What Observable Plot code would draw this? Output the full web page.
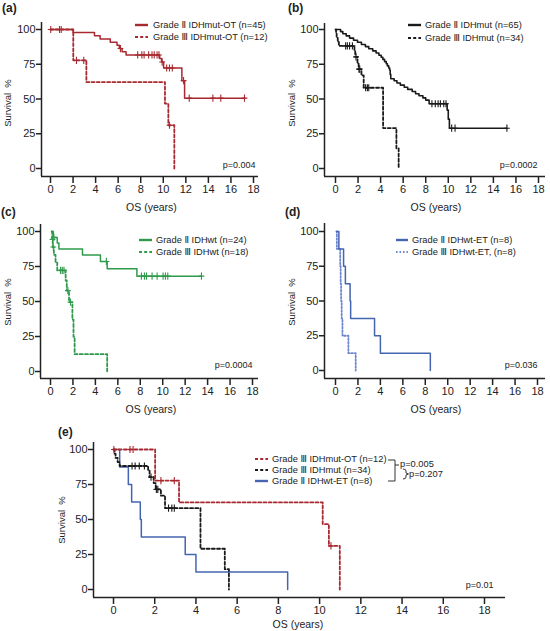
<!DOCTYPE html>
<html><head><meta charset="utf-8">
<script src="https://cdn.jsdelivr.net/npm/d3@7"></script>
<script src="https://cdn.jsdelivr.net/npm/@observablehq/plot@0.6"></script>
<style>
html,body{margin:0;padding:0;background:#fff;}
#root{position:relative;width:550px;height:631px;overflow:hidden;background:#fff;}
#root svg{position:absolute;overflow:visible;}
</style></head><body><div id="root"></div>
<script>
const FONT = '"Liberation Sans", Arial, "DejaVu Sans", "Noto Sans CJK SC", sans-serif';
const xTicks = [0, 2, 4, 6, 8, 10, 12, 14, 16, 18];
const yTicks = [0, 25, 50, 75, 100];

// ---- Grade II IDHmut-OT (n=45)
const g2OT_t = [0, 2.0, 3.9, 4.4, 5.3, 5.9, 6.1, 6.35, 6.7, 9.68, 9.85, 10.03, 11.65, 11.89, 17.25];
const g2OT_s = [100, 97.8, 95.5, 93.2, 90.9, 88.6, 86.3, 84.0, 81.7, 79.2, 76.6, 72.3, 63.2, 50.6, 50.6];
const g2OT_c = [6.2, 7.73, 8.1, 8.3, 8.7, 9.0, 9.2, 9.45, 9.62, 9.9, 10.3, 10.55, 10.8, 11.8, 12.3, 14.4, 15.1, 17.2];
// ---- Grade III IDHmut-OT (n=12)
const g3OT_t = [0, 2.02, 3.18, 10.15, 10.45, 10.98];
const g3OT_s = [100, 77.8, 62.2, 46.7, 31.1, 0];
const g3OT_c = [0.02, 0.8, 0.95, 2.3, 2.95, 10.55];
// ---- Grade II IDHmut (n=65)
const g2M_t = [0.1, 0.45, 0.65, 0.95, 1.25, 1.6, 1.95, 2.3, 2.65, 2.95, 3.3, 3.6, 3.85, 4.05, 4.2, 4.35, 4.5, 4.6, 4.72, 4.8, 4.85, 4.9, 5.2, 5.45, 5.75, 6.1, 6.4, 6.8, 7.1, 7.4, 7.75, 8.0, 8.3, 9.9, 10.0, 10.1, 15.2];
const g2M_s = [100, 98.5, 96.9, 95.4, 93.8, 92.3, 90.8, 89.2, 87.7, 86.2, 84.6, 83.1, 81.5, 80.0, 78.5, 76.9, 75.4, 73.8, 72.3, 70.8, 67.7, 64.6, 63.1, 61.5, 60.0, 58.5, 56.9, 55.4, 53.8, 52.3, 50.8, 49.2, 46.6, 42.0, 35.5, 29.0, 29.0];
const g2M_c = [8.55, 8.85, 9.1, 9.3, 9.6, 9.8, 10.3, 10.6, 15.2];
// ---- Grade III IDHmut (n=34)
const g3M_t = [0, 0.05, 0.1, 0.2, 0.3, 1.68, 1.75, 1.95, 2.05, 2.3, 2.5, 4.22, 5.4, 5.6];
const g3M_s = [100, 97, 94, 91, 88.2, 85, 80.3, 76, 71.5, 67, 58.1, 29.1, 14.5, 0];
const g3M_c = [0.9, 1.05, 1.25, 1.5, 1.82, 2.08, 2.15, 2.67, 2.83, 2.95];
// ---- Grade II IDHwt (n=24)
const g2W_t = [0.1, 0.25, 0.6, 0.75, 2.85, 4.45, 5.05, 7.7, 13.45];
const g2W_s = [100, 95.8, 91.7, 87.5, 83.3, 78.6, 73.4, 68.1, 68.1];
const g2W_c = [0.3, 4.98, 8.1, 8.37, 8.55, 9.05, 9.5, 10.03, 10.24, 10.45, 13.45];
// ---- Grade III IDHwt (n=18)
const g3W_t = [0.1, 0.15, 0.2, 0.3, 0.45, 0.6, 1.35, 1.45, 1.65, 1.95, 2.05, 2.15, 5.05];
const g3W_s = [100, 94.4, 88.9, 83.3, 77.8, 72.2, 65.0, 57.8, 49.5, 37.1, 24.8, 12.4, 0];
const g3W_c = [0.18, 0.25, 0.9, 1.05, 1.2, 1.55, 1.78];
// ---- Grade II IDHwt-ET (n=8)
const g2E_t = [0.1, 0.3, 0.72, 0.88, 1.3, 1.35, 3.48, 4.0, 8.45];
const g2E_s = [100, 87.5, 75, 62.5, 50, 37.5, 25, 12.5, 0];
// ---- Grade III IDHwt-ET (n=8)
const g3E_t = [0.08, 0.12, 0.42, 0.46, 0.5, 0.55, 0.62, 1.15, 1.8];
const g3E_s = [100, 87.5, 75, 62.5, 50, 37.5, 25, 12.5, 0];

const labels = {
  g2OT: "Grade Ⅱ IDHmut-OT (n=45)", g3OT: "Grade Ⅲ IDHmut-OT (n=12)",
  g2M: "Grade Ⅱ IDHmut (n=65)", g3M: "Grade Ⅲ IDHmut (n=34)",
  g2W: "Grade Ⅱ IDHwt (n=24)", g3W: "Grade Ⅲ IDHwt (n=18)",
  g2E: "Grade Ⅱ IDHwt-ET (n=8)", g3E: "Grade Ⅲ IDHwt-ET, (n=8)"
};
const pValues = {a: "p=0.004", b: "p=0.0002", c: "p=0.0004", d: "p=0.036", e: "p=0.01"};
const pPairs = ["p=0.005", "p=0.207"];

const RED = "#a8292f", BLACK = "#1a1a1a", GREEN = "#2f9a4b", BLUE = "#4565b0", BLUE2 = "#6f88cf";
const DASH = "3,2.2", DOT = "1.6,1.9";

function pts(t, s) { return t.map((v, i) => ({t: v, s: s[i]})); }
function survAt(t, s, time) { let v = s[0]; for (let i = 0; i < t.length; i++) if (t[i] <= time) v = s[i]; return v; }
function cens(t, s, c) { return (c || []).map(x => ({t: x, s: survAt(t, s, x)})); }

const S = {
  g2OT: {t: g2OT_t, s: g2OT_s, c: g2OT_c, color: RED, dash: null, w: 1.5, label: labels.g2OT},
  g3OT: {t: g3OT_t, s: g3OT_s, c: g3OT_c, color: RED, dash: DASH, w: 1.8, label: labels.g3OT},
  g2M: {t: g2M_t, s: g2M_s, c: g2M_c, color: BLACK, dash: null, w: 1.6, label: labels.g2M},
  g3M: {t: g3M_t, s: g3M_s, c: g3M_c, color: BLACK, dash: DASH, w: 1.8, label: labels.g3M},
  g2W: {t: g2W_t, s: g2W_s, c: g2W_c, color: GREEN, dash: null, w: 1.5, label: labels.g2W},
  g3W: {t: g3W_t, s: g3W_s, c: g3W_c, color: GREEN, dash: DASH, w: 1.8, label: labels.g3W},
  g2E: {t: g2E_t, s: g2E_s, c: [], color: BLUE, dash: null, w: 1.5, label: labels.g2E},
  g3E: {t: g3E_t, s: g3E_s, c: [], color: BLUE2, dash: DOT, w: 1.8, label: labels.g3E}
};

const censorSymbol = {
  draw(ctx, size) {
    const r = Math.sqrt(size / Math.PI);
    ctx.moveTo(0, -r); ctx.lineTo(0, r);
    ctx.moveTo(-r * 0.8, 0); ctx.lineTo(r * 0.8, 0);
  }
};

const panels = [
  {id: "a", left: 0, top: 0, width: 275, height: 220, yAxisX: 41, xAxisY: 176, axisTop: 22, axisRight: 258, x0: 50, x18: 253, y100: 29, y0: 168,
   series: ["g3OT", "g2OT"], legend: {sx: 135, sx2: 148, tx: 153, rows: [25, 37], keys: ["g2OT", "g3OT"]},
   letter: [2, 8], os: [151.5, 207], surv: [8, 103], p: [255, 165]},
  {id: "b", left: 275, top: 0, width: 275, height: 220, yAxisX: 324, xAxisY: 176, axisTop: 23, axisRight: 545, x0: 335, x18: 538, y100: 29, y0: 168,
   series: ["g3M", "g2M"], legend: {sx: 408, sx2: 421, tx: 425, rows: [25, 38], keys: ["g2M", "g3M"]},
   letter: [288, 8], os: [436, 207], surv: [292, 103], p: [537, 165]},
  {id: "c", left: 0, top: 200, width: 275, height: 220, yAxisX: 40, xAxisY: 378, axisTop: 224, axisRight: 258, x0: 50, x18: 252, y100: 231, y0: 371,
   series: ["g3W", "g2W"], legend: {sx: 139, sx2: 152, tx: 156, rows: [240, 252], keys: ["g2W", "g3W"]},
   letter: [1, 212], os: [151, 409], surv: [8, 302], p: [252, 365]},
  {id: "d", left: 275, top: 200, width: 275, height: 220, yAxisX: 324, xAxisY: 378, axisTop: 223, axisRight: 545, x0: 335, x18: 537, y100: 231, y0: 370,
   series: ["g3E", "g2E"], legend: {sx: 396, sx2: 408, tx: 412, rows: [240, 252], keys: ["g2E", "g3E"]},
   letter: [285, 212], os: [436, 409], surv: [292, 302], p: [537, 365]},
  {id: "e", left: 0, top: 415, width: 550, height: 216, yAxisX: 93, xAxisY: 597, axisTop: 442, axisRight: 505, x0: 113, x18: 484, y100: 449, y0: 589,
   series: ["g2E", "g3M", "g3OT"], legend: {sx: 255, sx2: 268, tx: 272, rows: [459, 470, 481], keys: ["g3OT", "g3M", "g2E"]},
   letter: [58, 432], os: [298, 624], surv: [62, 520], p: [493, 585], brackets: true}
];

const root = document.getElementById("root");

for (const P of panels) {
  const xInv = px => (px - P.x0) / (P.x18 - P.x0) * 18;
  const yInv = py => (P.y0 - py) / (P.y0 - P.y100) * 100;
  const marks = [
    Plot.ruleX([xInv(P.yAxisX)], {y1: yInv(P.xAxisY), y2: yInv(P.axisTop), stroke: "#222", strokeWidth: 1.5}),
    Plot.ruleY([yInv(P.xAxisY)], {x1: xInv(P.yAxisX), x2: xInv(P.axisRight), stroke: "#222", strokeWidth: 1.5}),
    Plot.axisX({ticks: xTicks, tickSize: 7, tickPadding: 2, fontSize: 11, label: null, strokeWidth: 1.5, stroke: "#222", fill: "#222"}),
    Plot.axisY({ticks: yTicks, tickSize: 5, tickPadding: 1, fontSize: 11, label: null, strokeWidth: 1.5, stroke: "#222", fill: "#222"})
  ];
  for (const k of P.series) {
    const d = S[k];
    marks.push(Plot.line(pts(d.t, d.s), {x: "t", y: "s", curve: "step-after", stroke: d.color, strokeWidth: d.w, strokeDasharray: d.dash}));
    if (d.c.length) marks.push(Plot.dot(cens(d.t, d.s, d.c), {x: "t", y: "s", symbol: censorSymbol, r: 3.6, stroke: d.color, strokeWidth: 1.1, fill: "none"}));
  }
  marks.push(Plot.text([pValues[P.id]], {x: xInv(P.p[0]), y: yInv(P.p[1]), text: d => d, textAnchor: "end", fontSize: 9, fill: "#222"}));

  const svg = Plot.plot({
    width: P.width, height: P.height,
    marginLeft: P.yAxisX - P.left, marginTop: P.axisTop - P.top,
    marginRight: P.left + P.width - P.axisRight, marginBottom: P.top + P.height - P.xAxisY,
    x: {domain: [0, 18], range: [P.x0 - P.left, P.x18 - P.left]},
    y: {domain: [0, 100], range: [P.y0 - P.top, P.y100 - P.top]},
    style: {background: "transparent", fontFamily: FONT, fontSize: "11px", color: "#222", overflow: "visible"},
    marks
  });
  svg.style.left = P.left + "px";
  svg.style.top = P.top + "px";
  root.appendChild(svg);

  const g = d3.select(svg).append("g").attr("font-family", FONT).attr("fill", "#222").attr("text-anchor", "start");
  const L = (x) => x - P.left, T = (y) => y - P.top;
  g.append("text").attr("x", L(P.letter[0])).attr("y", T(P.letter[1])).attr("dy", "0.35em")
    .attr("text-anchor", "start").attr("font-size", 12).attr("font-weight", "bold").text("(" + P.id + ")");
  g.append("text").attr("x", L(P.os[0])).attr("y", T(P.os[1])).attr("dy", "0.35em")
    .attr("text-anchor", "middle").attr("font-size", 10.5).text("OS (years)");
  g.append("text").attr("transform", `translate(${L(P.surv[0])},${T(P.surv[1])}) rotate(-90)`).attr("dy", "0.35em")
    .attr("text-anchor", "middle").attr("font-size", 9.5).text("Survival  %");
  const lg = P.legend;
  lg.keys.forEach((k, i) => {
    const d = S[k];
    const y = T(lg.rows[i]);
    g.append("line").attr("x1", L(lg.sx)).attr("x2", L(lg.sx2)).attr("y1", y).attr("y2", y)
      .attr("stroke", d.color).attr("stroke-width", d.dash ? 2 : 2.4).attr("stroke-dasharray", d.dash);
    g.append("text").attr("x", L(lg.tx)).attr("y", y).attr("dy", "0.35em").attr("text-anchor", "start")
      .attr("font-size", 9.3).text(d.label);
  });
  if (P.brackets) {
    g.append("path").attr("d", `M${L(388)},${T(460)}H${L(395)}V${T(481)}H${L(388)}M${L(395)},${T(465)}H${L(399)}`)
      .attr("fill", "none").attr("stroke", "#333").attr("stroke-width", 1);
    g.append("path").attr("d", `M${L(403)},${T(469)}Q${L(406)},${T(469)} ${L(406)},${T(471)}V${T(473)}L${L(408.5)},${T(474)}L${L(406)},${T(475)}V${T(477)}Q${L(406)},${T(479)} ${L(403)},${T(479)}`)
      .attr("fill", "none").attr("stroke", "#333").attr("stroke-width", 1);
    g.append("text").attr("x", L(400)).attr("y", T(464)).attr("dy", "0.35em").attr("text-anchor", "start").attr("font-size", 9.3).text(pPairs[0]);
    g.append("text").attr("x", L(409)).attr("y", T(474)).attr("dy", "0.35em").attr("text-anchor", "start").attr("font-size", 9.3).text(pPairs[1]);
  }
}
</script></body></html>
